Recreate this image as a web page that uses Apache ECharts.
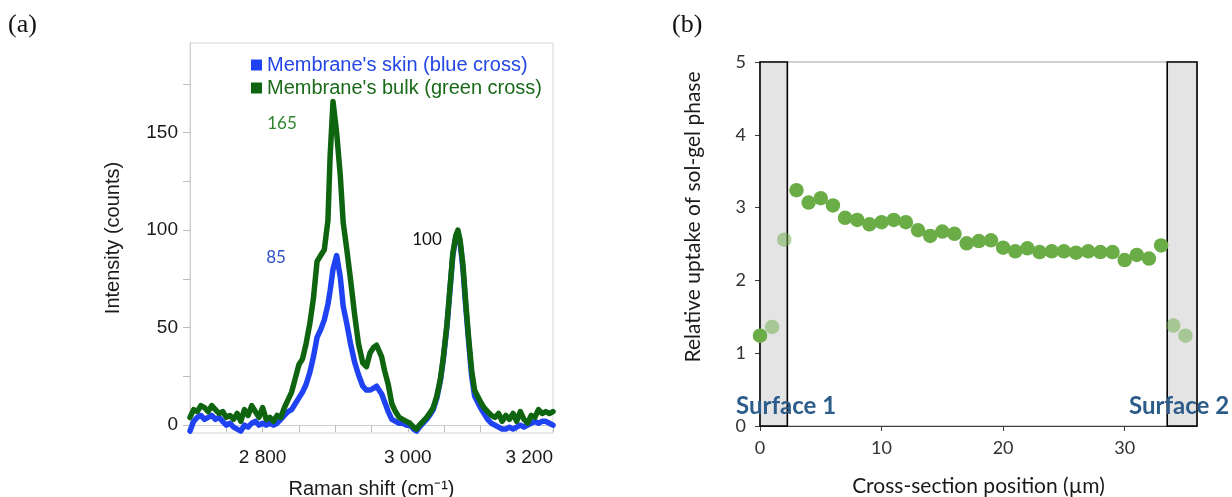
<!DOCTYPE html>
<html><head><meta charset="utf-8">
<script src="https://cdn.jsdelivr.net/npm/echarts@6/dist/echarts.min.js"></script>
<style>html,body{margin:0;padding:0;background:#fff}#c{width:1232px;height:497px}</style>
</head><body><div id="c"></div>
<script>
// ---------- Panel (a): Raman spectra ----------
const ramanShift = [
  2700,2705,2710,2715,2720,2725,2730,2735,2740,2745,
  2750,2755,2760,2765,2770,2775,2780,2785,2790,2795,
  2800,2805,2810,2815,2820,2825,2830,2835,2840,2845,
  2850,2855,2860,2865,2870,2875,2880,2885,2890,
  2893,2897,2902,2907,2911,2916,2921,2927,2932,2938,
  2943,2948,2953,2957,2964,2968,2973,2978,2983,2988,
  2993,2998,3003,3008,3012,3016,3021,3026,3030,3035,
  3040,3045,3049,3054,3058,3062,3066,3069,3072,3076,
  3080,3084,3088,3092,3096,
  3100,3105,3110,3115,3120,3125,3130,3135,3140,3145,
  3150,3155,3160,3165,3170,3175,3180,3185,3190,3195,3200
];
const skinIntensity = [
  -3,2,4,5,3,4,5,3,4,2,
  0,1,-1,-2,-3,0,-1,1,2,0,
  1,0,1,0,1,3,5,7,8,11,
  14,17,21,27,35,45,49,54,62,
  69,80,87,76,61,52,42,32,26,20,
  18,18,19,20,16,12,7,3,2,1,
  1,0,0,-2,-3,-1,1,3,5,8,
  14,23,34,51,69,87,96,99,94,80,
  60,42,25,15,12,
  9,6,3,1,0,-1,-2,-2,-1,-2,
  -1,0,-1,0,1,2,1,2,2,1,0
];
const bulkIntensity = [
  4,8,7,10,9,7,10,8,6,7,
  4,5,3,6,2,8,5,10,7,4,
  9,3,4,2,5,4,9,13,17,24,
  31,34,42,52,65,84,87,90,105,
  138,166,150,128,104,90,75,56,42,32,
  30,37,40,41,35,28,21,11,7,4,
  3,2,1,-1,-2,0,2,4,6,9,
  15,24,35,52,70,88,97,100,95,82,
  62,44,28,18,15,
  12,9,7,5,4,6,2,5,3,6,
  2,7,3,1,5,4,8,6,7,6,7
];
const intensityLabels = [0, 50, 100, 150];
const intensityTicks = [0, 25, 50, 75, 100, 125, 150, 175];
const ramanLabels = [2800, 3000, 3200];
const ramanTicks = [2700, 2750, 2800, 2850, 2900, 2950, 3000, 3050, 3100, 3150, 3200];
const skinName = "Membrane's skin (blue cross)";
const bulkName = "Membrane's bulk (green cross)";

// ---------- Panel (b): sol-gel uptake ----------
const positions = [0,3,4,5,6,7,8,9,10,11,12,13,14,15,16,17,18,19,20,21,22,23,24,25,26,27,28,29,30,31,32,33];
const uptake = [1.24,3.24,3.07,3.13,3.03,2.86,2.83,2.77,2.80,2.83,2.80,2.69,2.61,2.67,2.64,2.51,2.54,2.55,2.45,2.40,2.44,2.39,2.40,2.40,2.38,2.40,2.39,2.39,2.28,2.35,2.30,2.48];
const surfacePositions = [1, 2, 34, 35];
const surfaceUptake = [1.36, 2.56, 1.38, 1.24];
const surfaceBands = [[0, 2.25], [33.5, 35.95]];
const positionTicks = [0, 10, 20, 30];

const BLUE = '#1f43f2', GREEN = '#0f650f', PT = '#6aac46';
const fmtThousands = v => String(v).replace(/\B(?=(\d{3})+(?!\d))/g, ' ');

const chart = echarts.init(document.getElementById('c'), null, {renderer: 'canvas'});
chart.setOption({
  animation: false,
  backgroundColor: '#fff',
  grid: [
    {left: 190, top: 43, width: 363, height: 390, show: true, borderColor: '#d4d4d4', borderWidth: 1, containLabel: false, outerBoundsMode: 'none'},
    {left: 760, top: 62, width: 437, height: 364, show: true, borderColor: '#a0a0a0', borderWidth: 1, containLabel: false, outerBoundsMode: 'none'}
  ],
  legend: {
    show: true, orient: 'vertical', left: 246, top: 50, itemGap: 3,
    icon: 'rect', itemWidth: 11, itemHeight: 11,
    textStyle: {fontFamily: 'Liberation Sans', fontSize: 20, padding: [0, 0, 0, 0]},
    data: [
      {name: skinName, textStyle: {color: '#2446e6'}},
      {name: bulkName, textStyle: {color: '#1a6a1a'}}
    ]
  },
  xAxis: [
    {
      gridIndex: 0, type: 'value', min: 2700, max: 3200,
      name: 'Raman shift (cm\u207B\u00B9)', nameLocation: 'middle', nameGap: 46,
      nameTextStyle: {fontFamily: 'Liberation Sans', fontSize: 20, color: '#1a1a1a'},
      axisLine: {show: true, lineStyle: {color: '#cfcfcf'}},
      axisTick: {show: true, length: 7, lineStyle: {color: '#bdbdbd'}, customValues: ramanTicks},
      axisLabel: {fontFamily: 'Liberation Sans', fontSize: 19, color: '#1a1a1a', margin: 15,
        customValues: ramanLabels, formatter: fmtThousands, alignMaxLabel: 'right'},
      splitLine: {show: false}
    },
    {
      gridIndex: 1, type: 'value', min: 0, max: 35.95,
      name: 'Cross-section position (\u00B5m)', nameLocation: 'middle', nameGap: 50,
      nameTextStyle: {fontFamily: 'Lato', fontSize: 21, color: '#1a1a1a'},
      axisLine: {show: true, lineStyle: {color: '#404040', width: 1}},
      axisTick: {show: true, length: 5, lineStyle: {color: '#404040'}, customValues: positionTicks},
      axisLabel: {fontFamily: 'Lato', fontSize: 18, color: '#333', margin: 13, customValues: positionTicks},
      splitLine: {show: false}
    }
  ],
  yAxis: [
    {
      gridIndex: 0, type: 'value', min: -4, max: 196,
      name: 'Intensity (counts)', nameLocation: 'middle', nameGap: 67,
      nameTextStyle: {fontFamily: 'Liberation Sans', fontSize: 20, color: '#1a1a1a'},
      axisLine: {show: true, lineStyle: {color: '#cfcfcf'}},
      axisTick: {show: true, length: 7, lineStyle: {color: '#bdbdbd'}, customValues: intensityTicks},
      axisLabel: {fontFamily: 'Liberation Sans', fontSize: 19, color: '#1a1a1a', margin: 12, customValues: intensityLabels},
      splitLine: {show: false}
    },
    {
      gridIndex: 1, type: 'value', min: 0, max: 5, interval: 1,
      axisLine: {show: true, lineStyle: {color: '#404040', width: 1}},
      axisTick: {show: true, length: 5, lineStyle: {color: '#404040'}},
      axisLabel: {fontFamily: 'Lato', fontSize: 18, color: '#333', margin: 14},
      splitLine: {show: false}
    }
  ],
  series: [
    {
      name: skinName, type: 'line', xAxisIndex: 0, yAxisIndex: 0, showSymbol: false, symbol: 'none',
      color: BLUE, lineStyle: {width: 5.5, color: BLUE, cap: 'round', join: 'round'}, z: 2,
      data: ramanShift.map((x, i) => [x, skinIntensity[i]])
    },
    {
      name: bulkName, type: 'line', xAxisIndex: 0, yAxisIndex: 0, showSymbol: false, symbol: 'none',
      color: GREEN, lineStyle: {width: 5.5, color: GREEN, cap: 'round', join: 'round'}, z: 3,
      data: ramanShift.map((x, i) => [x, bulkIntensity[i]])
    },
    {
      name: 'bands', type: 'scatter', xAxisIndex: 1, yAxisIndex: 1, data: [], z: 1,
      markArea: {
        silent: true,
        itemStyle: {color: '#e4e4e4', borderColor: '#000', borderWidth: 1.6},
        data: surfaceBands.map(b => [{xAxis: b[0], yAxis: 0}, {xAxis: b[1], yAxis: 5}])
      }
    },
    {
      name: 'surface', type: 'scatter', xAxisIndex: 1, yAxisIndex: 1, z: 4,
      symbolSize: 14.5, itemStyle: {color: PT, opacity: 0.5},
      data: surfacePositions.map((x, i) => [x, surfaceUptake[i]])
    },
    {
      name: 'bulk', type: 'scatter', xAxisIndex: 1, yAxisIndex: 1, z: 5,
      symbolSize: 14.5, itemStyle: {color: PT, opacity: 1},
      data: positions.map((x, i) => [x, uptake[i]])
    }
  ],
  graphic: [
    {type: 'text', left: 8, top: 12, style: {text: '(a)', font: '26px "Liberation Serif"', fill: '#111'}},
    {type: 'text', left: 672, top: 12, style: {text: '(b)', font: '26px "Liberation Serif"', fill: '#111'}},
    {type: 'text', x: 693, y: 217, rotation: Math.PI / 2,
      style: {text: 'Relative uptake of sol-gel phase', font: '21px Lato', fill: '#1a1a1a', align: 'center', verticalAlign: 'middle'}},
    {type: 'text', x: 282, y: 124, style: {text: '165', font: '17px Lato', fill: '#2d862d', align: 'center', verticalAlign: 'middle'}},
    {type: 'text', x: 276, y: 258, style: {text: '85', font: '17px Lato', fill: '#3050c8', align: 'center', verticalAlign: 'middle'}},
    {type: 'text', x: 427, y: 240, style: {text: '100', font: '17px Lato', fill: '#111', align: 'center', verticalAlign: 'middle'}},
    {type: 'text', x: 786, y: 406, z: 10, style: {text: 'Surface 1', font: 'bold 24px Lato', fill: '#2c5c8a', align: 'center', verticalAlign: 'middle'}},
    {type: 'text', x: 1179, y: 406, z: 10, style: {text: 'Surface 2', font: 'bold 24px Lato', fill: '#2c5c8a', align: 'center', verticalAlign: 'middle'}}
  ]
});
</script>
</body></html>
